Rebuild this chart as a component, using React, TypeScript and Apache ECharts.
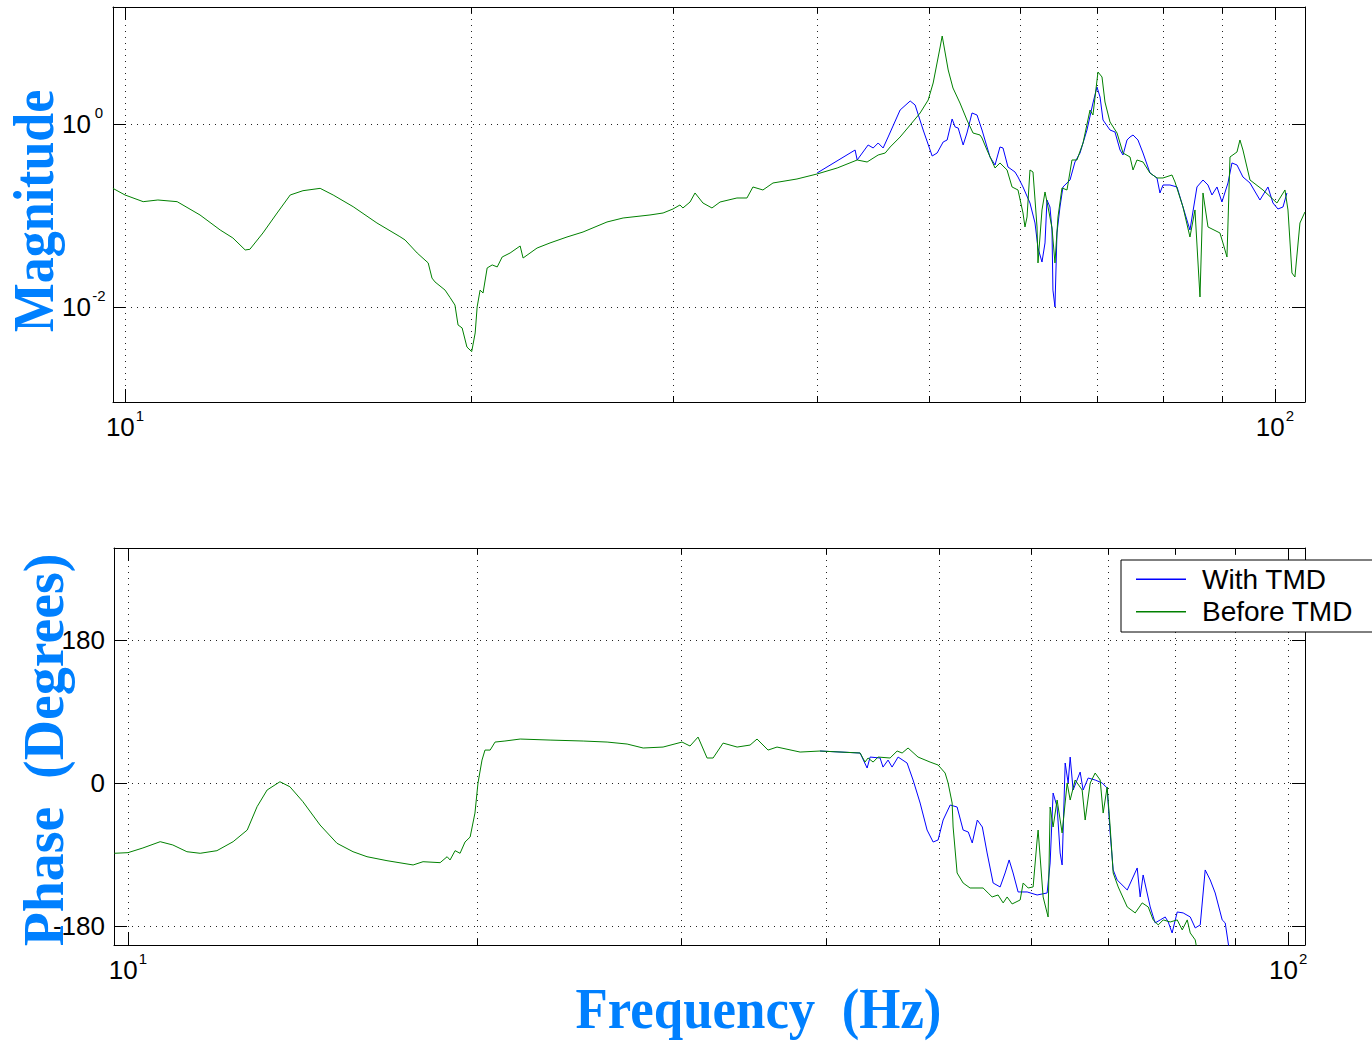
import React, { useEffect, useRef } from 'react';
import * as echarts from 'echarts';

// ---- tick values ----
const freqMajorTicks = [10, 100];
const freqMinorTicks = [20, 30, 40, 50, 60, 70, 80, 90];
const magTicks = [0.01, 1];
const phaseTicks = [-180, 0, 180];

// ---- magnitude, before TMD (green) ----
const magFreqBefore = [9.76, 10, 10.37, 10.68, 11.10, 11.62, 12.10, 12.41, 12.72, 12.84,
  13.18, 13.56, 13.92, 14.28, 14.78, 15.17, 15.79, 16.56, 17.34, 17.52,
  17.95, 18.35, 18.49, 18.60, 18.98, 19.17, 19.36, 19.48, 19.64, 19.83,
  20.02, 20.16, 20.24, 20.36, 20.48, 20.65, 20.86, 21.07, 21.28, 21.62,
  22.06, 22.19, 22.82, 23.42, 24.23, 25.02, 26.25, 27.11, 28.61, 29.37,
  29.96, 30.38, 30.56, 31.00, 31.31, 31.81, 32.39, 32.92, 34.05, 34.74,
  35.16, 35.87, 36.60, 38.40, 39.98, 41.62, 43.32, 44.19, 45.18, 45.82,
  46.28, 47.21, 48.17, 49.14, 49.94, 50.44, 51.15, 51.36, 51.56, 51.98,
  52.48, 53.22, 53.97, 54.63, 55.40, 55.62, 56.18, 57.09, 57.66, 58.48,
  59.07, 59.78, 60.38, 60.62, 60.87, 61.23, 61.60, 62.10, 62.22, 62.72,
  63.10, 63.48, 63.99, 64.37, 64.76, 65.28, 65.94, 66.60, 67.27, 68.09,
  69.05, 69.46, 70.16, 70.73, 71.15, 71.87, 72.89, 73.77, 74.81, 75.26,
  75.86, 76.78, 77.86, 78.96, 79.92, 81.37, 81.86, 83.18, 84.35, 85.20,
  86.06, 86.58, 87.45, 89.57, 90.11, 90.84, 91.39, 92.68, 93.23, 93.79,
  95.12, 97.63, 100.40, 102.02, 102.64, 103.46, 104.08, 105.13, 106.19];
const magBefore = [0.198, 0.1675, 0.1416, 0.1477, 0.1416, 0.1013, 0.0694, 0.0568, 0.042, 0.0427,
  0.0644, 0.1065, 0.1675, 0.1866, 0.198, 0.1675, 0.1248, 0.0828, 0.0587, 0.054,
  0.0389, 0.0303, 0.0207, 0.0188, 0.0153, 0.0127, 0.0105, 0.00636, 0.0059, 0.00365,
  0.00325, 0.0052, 0.01, 0.0153, 0.0142, 0.0267, 0.0288, 0.0274, 0.0352, 0.0389,
  0.0464, 0.0343, 0.0441, 0.0501, 0.0582, 0.066, 0.0849, 0.0939, 0.1013, 0.1065,
  0.1178, 0.1303, 0.1208, 0.1404, 0.1762, 0.1369, 0.1208, 0.1404, 0.1553, 0.1553,
  0.2049, 0.19, 0.2266, 0.2505, 0.2842, 0.3305, 0.4042, 0.3843, 0.4584, 0.4819,
  0.5605, 0.7211, 0.975, 1.319, 1.829, 2.806, 6.942, 9.156, 6.942, 3.893,
  2.474, 1.696, 1.106, 0.797, 0.758, 0.703, 0.5197, 0.3305, 0.375, 0.3144,
  0.2049, 0.19, 0.1065, 0.0749, 0.0963, 0.3144, 0.2988, 0.0749, 0.0303, 0.1149,
  0.1806, 0.1238, 0.073, 0.0303, 0.0963, 0.1998, 0.19, 0.4042, 0.4042, 0.6199,
  1.422, 1.254, 3.701, 3.264, 1.739, 1.052, 0.797, 0.4819, 0.4358, 0.3144,
  0.4042, 0.3843, 0.2914, 0.257, 0.257, 0.2771, 0.2323, 0.1238, 0.0582, 0.1149,
  0.01286, 0.1762, 0.0749, 0.0644, 0.0501, 0.0352, 0.4358, 0.4943, 0.6685, 0.5197,
  0.2443, 0.19, 0.1369, 0.19, 0.1149, 0.02353, 0.02128, 0.0828, 0.1092];

// ---- magnitude, with TMD (blue) ----
const magFreqWith = [39.98, 43.14, 43.32, 44.28, 44.73, 45.18, 45.63, 46.09, 47.21, 48.17,
  48.65, 49.44, 50.34, 50.84, 51.46, 51.87, 52.39, 52.71, 53.03, 53.56,
  53.97, 54.52, 55.07, 55.62, 56.52, 57.09, 57.66, 58.01, 58.59, 59.42,
  59.78, 60.38, 61.23, 61.85, 62.22, 62.72, 63.10, 63.35, 63.73, 63.99,
  64.11, 64.37, 64.63, 65.02, 65.41, 66.34, 67.00, 67.68, 68.63, 69.46,
  70.02, 70.45, 70.87, 71.87, 72.59, 73.33, 73.77, 74.36, 74.81, 75.26,
  76.01, 76.78, 77.86, 78.96, 79.43, 79.92, 81.04, 82.19, 83.18, 84.35,
  85.54, 86.58, 87.45, 88.15, 89.04, 89.93, 91.02, 91.75, 92.68, 93.79,
  95.12, 97.04, 98.61, 99.60, 100.60, 101.62, 102.43];
const magWith = [0.2914, 0.5197, 0.4042, 0.5896, 0.5467, 0.6199, 0.5467, 0.7211, 1.422, 1.784,
  1.613, 0.860, 0.447, 0.4819, 0.6358, 0.6685, 1.134, 0.927, 0.904, 0.5896,
  0.797, 1.319, 1.254, 0.860, 0.4358, 0.3564, 0.5605, 0.5467, 0.3388, 0.2988,
  0.2634, 0.2049, 0.1369, 0.0828, 0.0441, 0.031, 0.0501, 0.1477, 0.1238, 0.0694,
  0.0153, 0.01, 0.0644, 0.1238, 0.2049, 0.2443, 0.3843, 0.4819, 0.860, 1.696,
  2.537, 1.973, 1.106, 0.860, 0.818, 0.5197, 0.4584, 0.6685, 0.7211, 0.758,
  0.6685, 0.4819, 0.2914, 0.257, 0.1762, 0.2154, 0.2154, 0.2049, 0.1238, 0.0694,
  0.2049, 0.2443, 0.2154, 0.1675, 0.2049, 0.1404, 0.2266, 0.375, 0.3564, 0.2634,
  0.2266, 0.1477, 0.2049, 0.1369, 0.1178, 0.1238, 0.1762];

// ---- phase, before TMD (green) ----
const phaseFreqBefore = [9.73, 10, 10.30, 10.66, 10.93, 11.24, 11.54, 11.93, 12.32, 12.67,
  12.92, 13.18, 13.52, 13.79, 14.15, 14.64, 15.14, 15.63, 16.07, 16.72,
  17.61, 17.96, 18.58, 18.84, 18.95, 19.14, 19.33, 19.52, 19.72, 19.91,
  20.03, 20.19, 20.31, 20.52, 20.72, 21.13, 21.78, 23.11, 24.68, 25.88,
  26.93, 27.80, 28.92, 30.03, 30.51, 31.00, 31.56, 31.94, 32.58, 33.50,
  34.37, 34.85, 35.62, 36.26, 37.96, 39.49, 42.76, 43.18, 43.44, 43.88,
  44.31, 45.38, 46.02, 46.48, 47.03, 47.97, 49.13, 49.92, 50.62, 50.92,
  51.33, 51.43, 51.84, 52.46, 53.19, 54.58, 55.13, 55.57, 56.23, 56.80,
  57.25, 57.82, 58.75, 59.10, 59.69, 60.28, 60.76, 60.88, 61.49, 62.10,
  62.35, 62.72, 63.22, 63.85, 64.49, 64.88, 65.52, 66.44, 66.84, 67.51,
  68.18, 68.86, 69.27, 69.82, 70.24, 70.66, 71.37, 72.66, 73.82, 74.85,
  75.75, 76.50, 77.27, 78.04, 79.13, 80.24, 81.04, 81.85, 82.34, 83.16, 83.49];
const phaseBefore = [-88.5, -87.7, -81.8, -73.9, -78.0, -86.5, -88.5, -85.2, -73.9, -59.2,
  -29.8, -8.8, 1.6, -4.7, -23.5, -52.9, -75.9, -86.5, -92.8, -97.8,
  -103.2, -99.1, -100.3, -92.8, -96.9, -85.2, -88.5, -74.3, -68.0, -37.8,
  0, 28.9, 41.5, 41.5, 51.6, 52.9, 55.4, 54.1, 52.9, 51.6,
  49.1, 44.1, 45.3, 51.6, 46.6, 57.9, 31.5, 31.5, 50.3, 45.3,
  47.8, 55.4, 41.5, 45.3, 39.0, 40.3, 37.8, 26.4, 31.5, 26.4,
  32.7, 31.5, 40.3, 37.8, 44.1, 32.7, 26.4, 22.7, 12.6, 0,
  -25.2, -55.4, -113.3, -125.9, -132.2, -132.2, -138.5, -143.5, -141.0, -151.0,
  -143.5, -152.3, -147.3, -125.9, -132.2, -130.9, -71.7, -59.2, -143.5, -168.7,
  -30.2, -55.4, -21.4, -62.9, 0, -21.4, 3.8, -8.8, -46.6, 0,
  12.6, 3.8, -37.8, -5.0, -55.4, -113.3, -130.9, -156.1, -163.6, -151.0,
  -156.1, -172.4, -178.7, -172.4, -175.0, -172.4, -185.0, -172.4, -188.8, -197.6, -212];

// ---- phase, with TMD (blue) ----
const phaseFreqWith = [39.49, 42.76, 43.36, 43.62, 44.49, 44.75, 45.20, 45.56, 46.11, 46.94,
  47.50, 48.17, 48.84, 49.43, 49.92, 50.42, 51.13, 51.84, 52.46, 53.00,
  53.42, 53.96, 54.50, 55.02, 55.68, 56.46, 57.02, 57.48, 57.93, 58.51,
  59.57, 60.76, 61.98, 62.35, 62.72, 63.22, 63.60, 63.85, 64.24, 64.62,
  64.88, 65.26, 66.18, 66.57, 67.24, 68.18, 69.14, 69.82, 70.24, 70.66,
  71.22, 72.66, 74.11, 74.55, 74.99, 76.05, 76.80, 77.58, 78.35, 78.82,
  79.43, 80.24, 81.19, 82.34, 83.16, 83.99, 84.82, 85.67, 86.52, 87.73, 88.26, 88.96];
const phaseWith = [40.3, 37.8, 18.9, 32.7, 31.5, 20.1, 28.9, 20.1, 32.7, 25.2,
  3.8, -25.2, -59.2, -74.3, -71.7, -46.6, -27.7, -30.2, -59.2, -61.7,
  -75.5, -46.6, -55.4, -88.1, -125.9, -130.9, -113.3, -96.9, -113.3, -137.2,
  -137.2, -141.0, -138.5, -100.7, -12.6, -30.2, -88.1, -103.2, 25.2, 0,
  32.7, -8.8, 13.8, -8.8, 6.3, 3.8, 0, -6.3, -62.9, -109.5,
  -122.1, -134.7, -107.0, -143.5, -115.8, -156.1, -176.2, -172.4, -168.7, -175.0,
  -188.8, -162.4, -163.6, -168.7, -182.5, -178.7, -109.5, -122.1, -138.5, -172.4, -176.2, -210];

const SERIES_NAMES = ['With TMD', 'Before TMD'];
const BLUE = '#0000ff';
const GREEN = '#008000';
const TITLE_BLUE = '#0080ff';
const FONT = 'Liberation Sans';
const GRID_COLOR = '#222';

const zip = (a: number[], b: number[]) => a.map((v, i) => [v, b[i]]);
const pow10Label = (v: number) => `{b|10}{s|${Math.round(Math.log10(v))}}`;

const richX = {
  b: { fontFamily: FONT, fontSize: 26, lineHeight: 26, color: '#000' },
  s: { fontFamily: FONT, fontSize: 15, lineHeight: 15, padding: [0, 0, 23, 1], color: '#000' },
};
const richY = {
  b: { fontFamily: FONT, fontSize: 26, lineHeight: 26, color: '#000' },
  s: { fontFamily: FONT, fontSize: 15, lineHeight: 15, padding: [0, 0, 23, 1], width: 14, align: 'left', color: '#000' },
};

const boxLine = { show: true, onZero: false, lineStyle: { color: '#000', width: 1 } };
const noLine = { show: false, onZero: false };
const dotted = { show: true, lineStyle: { color: GRID_COLOR, width: 1, type: [1, 5] } };
const tick = (len: number, values: number[]) => ({
  show: true, inside: true, length: len, customValues: values, lineStyle: { color: '#000', width: 1 },
});

function freqAxes(gridIndex: number, min: number, max: number) {
  const base = { type: 'log', logBase: 10, gridIndex, min, max };
  return [
    {
      ...base, position: 'bottom', axisLine: boxLine, axisTick: tick(13, freqMajorTicks),
      axisLabel: { show: true, customValues: freqMajorTicks, formatter: pow10Label, rich: richX, margin: 12 },
      splitLine: dotted,
    },
    {
      ...base, position: 'bottom', axisLine: noLine, axisTick: tick(6, freqMinorTicks),
      axisLabel: { show: false }, splitLine: dotted,
    },
    {
      ...base, position: 'top', axisLine: boxLine, axisTick: tick(13, freqMajorTicks),
      axisLabel: { show: false }, splitLine: { show: false },
    },
    {
      ...base, position: 'top', axisLine: noLine, axisTick: tick(6, freqMinorTicks),
      axisLabel: { show: false }, splitLine: { show: false },
    },
  ];
}

const MAG_MIN = 0.000915, MAG_MAX = 19;
const PH_MIN = -204, PH_MAX = 296;

const titleStyle = (text: string) => ({
  text, fontFamily: 'Liberation Serif', fontWeight: 'bold', fontSize: 50,
  fill: TITLE_BLUE, align: 'center', verticalAlign: 'middle', textAlign: 'center', textVerticalAlign: 'middle',
});

export default function App() {
  const ref = useRef<HTMLDivElement>(null);
  useEffect(() => {
    if (!ref.current) return;
    const chart = echarts.init(ref.current, undefined, { renderer: 'svg' });
    const option: any = {
      animation: false,
      backgroundColor: '#fff',
      grid: [
        { left: 113, top: 7, width: 1192, height: 395, outerBoundsMode: 'none', containLabel: false },
        { left: 114, top: 548, width: 1191, height: 397, outerBoundsMode: 'none', containLabel: false },
      ],
      xAxis: [...freqAxes(0, 9.762, 106.2), ...freqAxes(1, 9.726, 103.4)],
      yAxis: [
        {
          type: 'log', logBase: 10, gridIndex: 0, min: MAG_MIN, max: MAG_MAX, position: 'left',
          axisLine: boxLine, axisTick: tick(13, magTicks),
          axisLabel: { customValues: magTicks, formatter: pow10Label, rich: richY, margin: 7 },
          splitLine: dotted,
        },
        {
          type: 'log', logBase: 10, gridIndex: 0, min: MAG_MIN, max: MAG_MAX, position: 'right',
          axisLine: boxLine, axisTick: tick(13, magTicks), axisLabel: { show: false }, splitLine: { show: false },
        },
        {
          type: 'value', gridIndex: 1, min: PH_MIN, max: PH_MAX, position: 'left',
          axisLine: boxLine, axisTick: tick(13, phaseTicks),
          axisLabel: { customValues: phaseTicks, fontFamily: FONT, fontSize: 26, color: '#000', margin: 9 },
          splitLine: dotted,
        },
        {
          type: 'value', gridIndex: 1, min: PH_MIN, max: PH_MAX, position: 'right',
          axisLine: boxLine, axisTick: tick(13, phaseTicks), axisLabel: { show: false }, splitLine: { show: false },
        },
      ],
      legend: {
        data: SERIES_NAMES,
        orient: 'vertical',
        left: 1121,
        top: 560,
        padding: [5, 40, 6, 15],
        itemWidth: 50,
        itemHeight: 1.5,
        itemGap: 4,
        icon: 'rect',
        backgroundColor: '#fff',
        borderColor: '#000',
        borderWidth: 1,
        borderRadius: 0,
        selectedMode: false,
        textStyle: { fontFamily: FONT, fontSize: 28, color: '#000', lineHeight: 28.5, padding: [0, 0, 0, 11] },
      },
      series: [
        {
          name: SERIES_NAMES[0], type: 'line', xAxisIndex: 0, yAxisIndex: 0, data: zip(magFreqWith, magWith),
          symbol: 'none', showSymbol: false, lineStyle: { color: BLUE, width: 1 }, itemStyle: { color: BLUE },
        },
        {
          name: SERIES_NAMES[1], type: 'line', xAxisIndex: 0, yAxisIndex: 0, data: zip(magFreqBefore, magBefore),
          symbol: 'none', showSymbol: false, lineStyle: { color: GREEN, width: 1 }, itemStyle: { color: GREEN },
        },
        {
          name: SERIES_NAMES[0], type: 'line', xAxisIndex: 4, yAxisIndex: 2, data: zip(phaseFreqWith, phaseWith),
          symbol: 'none', showSymbol: false, lineStyle: { color: BLUE, width: 1 }, itemStyle: { color: BLUE },
        },
        {
          name: SERIES_NAMES[1], type: 'line', xAxisIndex: 4, yAxisIndex: 2, data: zip(phaseFreqBefore, phaseBefore),
          symbol: 'none', showSymbol: false, lineStyle: { color: GREEN, width: 1 }, itemStyle: { color: GREEN },
        },
      ],
      graphic: [
        { type: 'text', x: 33.6, y: 211, rotation: Math.PI / 2, scaleX: 1.04, scaleY: 1.14, style: titleStyle('Magnitude') },
        { type: 'text', x: 43.8, y: 750, rotation: Math.PI / 2, scaleX: 1.117, scaleY: 1.14, style: titleStyle('Phase  (Degrees)') },
        { type: 'text', x: 758.5, y: 1008.6, scaleX: 1.057, scaleY: 1.14, style: titleStyle('Frequency  (Hz)') },
      ],
    };
    chart.setOption(option);
    return () => chart.dispose();
  }, []);
  return <div ref={ref} style={{ position: 'absolute', left: 0, top: 0, width: 1372, height: 1041 }} />;
}
